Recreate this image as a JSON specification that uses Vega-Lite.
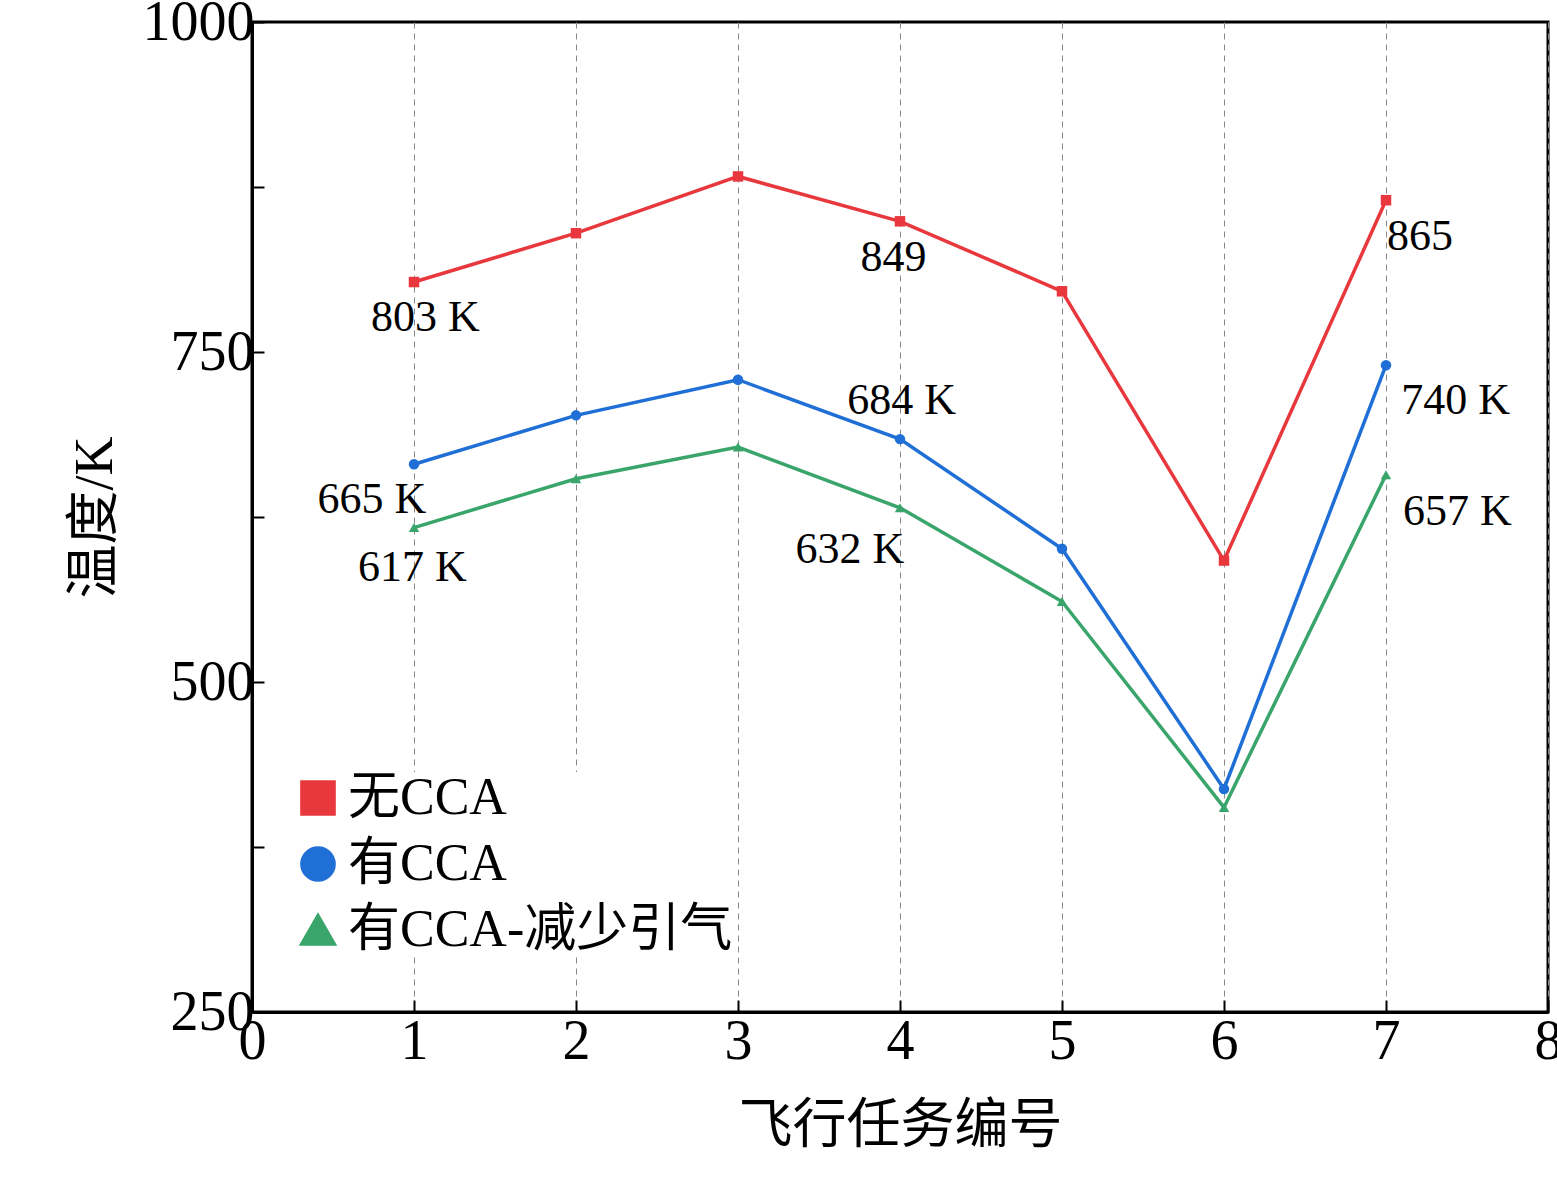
{
  "$schema": "https://vega.github.io/schema/vega-lite/v6.json",
  "width": 1296,
  "height": 990,
  "autosize": "none",
  "padding": {"left": 252, "top": 22, "right": 9, "bottom": 189},
  "background": "white",
  "config": {
    "font": "Liberation Serif, Noto Sans CJK SC",
    "view": {"stroke": "black", "strokeWidth": 3}
  },
  "datasets": {
    "series": [
      {"mission": 1, "temp": 803, "group": "无CCA"},
      {"mission": 2, "temp": 840, "group": "无CCA"},
      {"mission": 3, "temp": 883, "group": "无CCA"},
      {"mission": 4, "temp": 849, "group": "无CCA"},
      {"mission": 5, "temp": 796, "group": "无CCA"},
      {"mission": 6, "temp": 592, "group": "无CCA"},
      {"mission": 7, "temp": 865, "group": "无CCA"},
      {"mission": 1, "temp": 665, "group": "有CCA"},
      {"mission": 2, "temp": 702, "group": "有CCA"},
      {"mission": 3, "temp": 729, "group": "有CCA"},
      {"mission": 4, "temp": 684, "group": "有CCA"},
      {"mission": 5, "temp": 601, "group": "有CCA"},
      {"mission": 6, "temp": 419, "group": "有CCA"},
      {"mission": 7, "temp": 740, "group": "有CCA"},
      {"mission": 1, "temp": 617, "group": "有CCA-减少引气"},
      {"mission": 2, "temp": 654, "group": "有CCA-减少引气"},
      {"mission": 3, "temp": 678, "group": "有CCA-减少引气"},
      {"mission": 4, "temp": 632, "group": "有CCA-减少引气"},
      {"mission": 5, "temp": 561, "group": "有CCA-减少引气"},
      {"mission": 6, "temp": 405, "group": "有CCA-减少引气"},
      {"mission": 7, "temp": 657, "group": "有CCA-减少引气"}
    ],
    "labels": [
      {"x": 1.07, "y": 776, "text": "803 K"},
      {"x": 3.96, "y": 821, "text": "849"},
      {"x": 7.21, "y": 837, "text": "865"},
      {"x": 4.01, "y": 713, "text": "684 K"},
      {"x": 7.43, "y": 713, "text": "740 K"},
      {"x": 0.74, "y": 638, "text": "665 K"},
      {"x": 0.99, "y": 586, "text": "617 K"},
      {"x": 3.69, "y": 600, "text": "632 K"},
      {"x": 7.44, "y": 629, "text": "657 K"}
    ]
  },
  "layer": [
    {
      "data": {"name": "series"},
      "mark": {"type": "line", "strokeWidth": 3.5, "point": {"size": 110, "filled": true}},
      "encoding": {
        "x": {
          "field": "mission", "type": "quantitative",
          "scale": {"domain": [0, 8], "nice": false},
          "axis": {
            "values": [0, 0.5, 1, 1.5, 2, 2.5, 3, 3.5, 4, 4.5, 5, 5.5, 6, 6.5, 7, 7.5, 8],
            "format": "d",
            "labelExpr": "datum.value % 1 == 0 ? format(datum.value, 'd') : ''",
            "labelFlush": false, "labelOverlap": false,
            "title": "飞行任务编号", "titleFontSize": 54, "titleFontWeight": "normal", "titlePadding": 30,
            "labelFontSize": 56, "labelColor": "black", "labelPadding": 14,
            "domainColor": "black", "domainWidth": 3,
            "tickColor": "black", "tickWidth": 2, "tickSize": -12,
            "grid": true, "gridDash": [6, 5], "gridColor": "#888", "gridWidth": 1
          }
        },
        "y": {
          "field": "temp", "type": "quantitative",
          "scale": {"domain": [250, 1000], "nice": false},
          "axis": {
            "values": [250, 375, 500, 625, 750, 875, 1000],
            "labelExpr": "datum.value % 250 == 0 ? format(datum.value, 'd') : ''",
            "labelFlush": false, "labelOverlap": false,
            "title": "温度/K", "titleFontSize": 54, "titleFontWeight": "normal", "titlePadding": 20,
            "labelFontSize": 56, "labelColor": "black", "labelPadding": 10,
            "domainColor": "black", "domainWidth": 3,
            "tickColor": "black", "tickWidth": 2, "tickSize": -12,
            "grid": false
          }
        },
        "shape": {
          "field": "group", "type": "nominal",
          "scale": {"domain": ["无CCA", "有CCA", "有CCA-减少引气"], "range": ["square", "circle", "triangle-up"]},
          "legend": null
        },
        "color": {
          "field": "group", "type": "nominal",
          "scale": {"domain": ["无CCA", "有CCA", "有CCA-减少引气"], "range": ["#e8383d", "#1f6fd6", "#3aa56b"]},
          "legend": {
            "title": null, "orient": "none", "legendX": 40, "legendY": 750,
            "labelFontSize": 52, "labelColor": "black", "labelLimit": 800, "symbolSize": 1000,
            "symbolType": "stroke", "symbolStrokeWidth": 4, "rowPadding": 14,
            "fillColor": "white"
          }
        }
      }
    },
    {
      "data": {"name": "labels"},
      "mark": {"type": "text", "fontSize": 44, "color": "black", "align": "center", "baseline": "middle"},
      "encoding": {
        "x": {"field": "x", "type": "quantitative"},
        "y": {"field": "y", "type": "quantitative"},
        "text": {"field": "text"}
      }
    }
  ]
}
